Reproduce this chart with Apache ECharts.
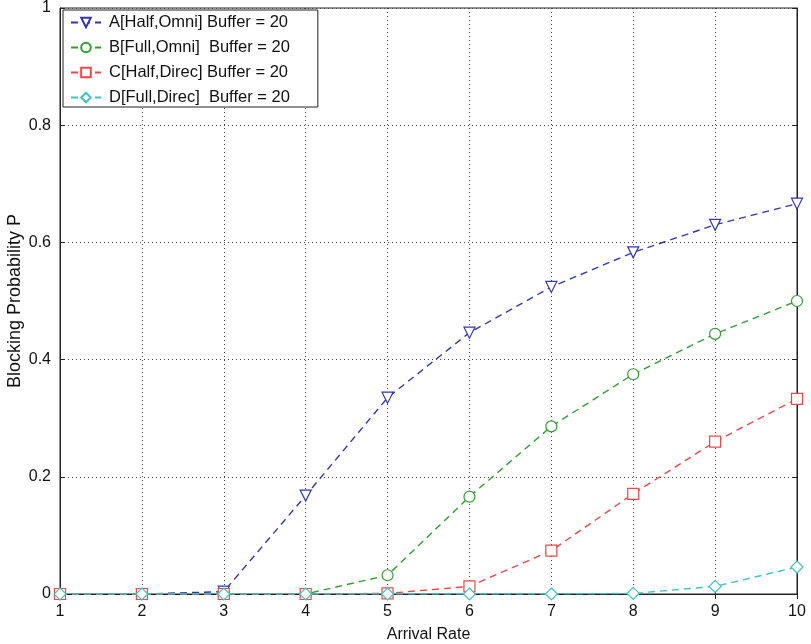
<!DOCTYPE html>
<html><head><meta charset="utf-8">
<script src="https://cdn.jsdelivr.net/npm/echarts@6/dist/echarts.min.js"></script>
<style>html,body{margin:0;padding:0;background:#fff}#c{width:811px;height:644px}</style>
</head><body><div id="c"></div>
<script>
const arrivalRate = [1,2,3,4,5,6,7,8,9,10];
const seriesNames = ['A[Half,Omni] Buffer = 20','B[Full,Omni]  Buffer = 20','C[Half,Direc] Buffer = 20','D[Full,Direc]  Buffer = 20'];
const valuesA = [0,0,0.004,0.168,0.335,0.446,0.524,0.583,0.630,0.666];
const valuesB = [0,0,0,0,0.032,0.166,0.286,0.375,0.444,0.500];
const valuesC = [0,0,0,0,0.001,0.013,0.074,0.171,0.260,0.333];
const valuesD = [0,0,0,0,0,0,0,0.001,0.013,0.046];
const yTicks = [0,0.2,0.4,0.6,0.8,1];

const colors = ['#3535b5','#2f9f2f','#f24545','#3fc4c4'];
const symbols = ['triangle','circle','rect','diamond'];
const rotates = [180,0,0,0];
const allVals = [valuesA,valuesB,valuesC,valuesD];
const font = 'Liberation Sans, Arial, sans-serif';

const chart = echarts.init(document.getElementById('c'));
const series = allVals.map((vals,i)=>({
  name: seriesNames[i], type:'line',
  data: vals.map((v,j)=>[arrivalRate[j],v]),
  symbol: symbols[i], symbolRotate: rotates[i],
  symbolSize: i===3 ? 12 : 11,
  showAllSymbol: true,
  lineStyle:{color:colors[i], width:1.4, type:[7,5]},
  itemStyle:{color:'#fff', borderColor:colors[i], borderWidth:1.2},
  z: 3+i
}));
const axisCommon = {
  axisLine:{show:true, lineStyle:{color:'#222', width:1}},
  axisTick:{show:true, inside:true, length:5, lineStyle:{color:'#222'}},
};
chart.setOption({
  animation:false,
  backgroundColor:'#fff',
  grid:{left:60, right:14, top:8, bottom:50, containLabel:false, outerBoundsMode:'none',
        show:true, borderColor:'#222', borderWidth:1, backgroundColor:'#fff'},
  legend:{
    orient:'vertical', left:63, top:10, itemWidth:30, itemHeight:12, itemGap:8,
    padding:[4,28,1,7],
    borderColor:'#222', borderWidth:1, backgroundColor:'#fff',
    textStyle:{fontFamily:font, fontSize:16.5, color:'#111', padding:[0,0,0,3]},
    data: seriesNames
  },
  xAxis:[{
    type:'value', min:1, max:10, interval:1,
    name:'Arrival Rate', nameLocation:'middle', nameGap:33, nameMoveOverlap:false,
    nameTextStyle:{fontFamily:font, fontSize:16, color:'#111'},
    ...axisCommon,
    axisLabel:{fontFamily:font, fontSize:16, color:'#111', margin:10},
    splitLine:{show:true, lineStyle:{color:'#444', type:[1,3], width:1}}
  },{
    type:'value', min:1, max:10, interval:1, position:'top',
    ...axisCommon, axisLabel:{show:false}, splitLine:{show:false}
  }],
  yAxis:[{
    type:'value', min:0, max:1, interval:0.2,
    name:'Blocking Probability P', nameLocation:'middle', nameGap:36, nameMoveOverlap:false,
    nameTextStyle:{fontFamily:font, fontSize:18, color:'#111'},
    ...axisCommon,
    axisLabel:{fontFamily:font, fontSize:16, color:'#111', margin:9,
      formatter:v=>{const t=yTicks.find(x=>Math.abs(x-v)<1e-9);return t===undefined?'':String(t);}},
    splitLine:{show:true, lineStyle:{color:'#444', type:[1,3], width:1}}
  },{
    type:'value', min:0, max:1, interval:0.2, position:'right',
    ...axisCommon, axisLabel:{show:false}, splitLine:{show:false}
  }],
  series
});
</script></body></html>
